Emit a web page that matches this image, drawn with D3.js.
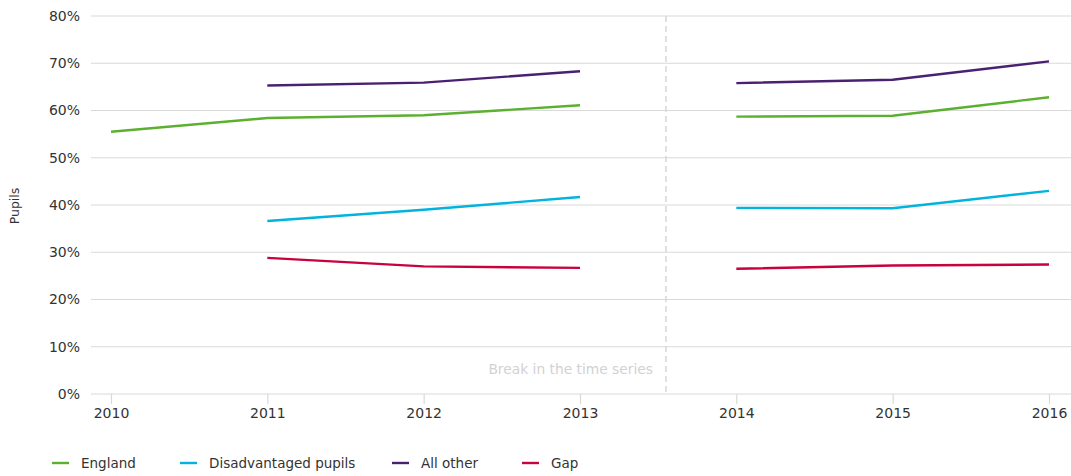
<!DOCTYPE html>
<html><head><meta charset="utf-8">
<script src="https://cdn.jsdelivr.net/npm/d3@7"></script>
<style>body{margin:0;background:#fff;font-family:"DejaVu Sans",sans-serif;}</style>
</head><body><svg id="c" width="1071" height="476"></svg>
<script>
const years = [2010, 2011, 2012, 2013, 2014, 2015, 2016];
const england = [55.5, 58.4, 59.0, 61.1, 58.7, 58.9, 62.8];
const disadvantaged = [null, 36.6, 39.0, 41.7, 39.4, 39.3, 43.0];
const allOther = [null, 65.3, 65.9, 68.3, 65.8, 66.5, 70.4];
const gap = [null, 28.8, 27.0, 26.7, 26.5, 27.2, 27.4];
const yTicks = [0, 10, 20, 30, 40, 50, 60, 70, 80];
const breakYear = 2013.55;
const breakLabel = "Break in the time series";
const seriesNames = ["England", "Disadvantaged pupils", "All other", "Gap"];
const seriesColors = ["#5bb030", "#00b4de", "#4a2170", "#c8023f"];
const seriesData = [england, disadvantaged, allOther, gap];

(function(){
const FONT = "'DejaVu Sans', sans-serif";
const svg = d3.select("#c").attr("font-family", FONT);
const pLeft = 91, pRight = 1071, pTop = 16, pBottom = 394;
const x = d3.scaleLinear().domain([2010, 2016]).range([111, 1049]);
const y = d3.scaleLinear().domain([0, 80]).range([pBottom, pTop]);

svg.append("g").selectAll("line").data(yTicks).join("line")
  .attr("x1", pLeft).attr("x2", pRight)
  .attr("y1", d => y(d)).attr("y2", d => y(d))
  .attr("stroke", "#d9d9d9").attr("stroke-width", 1.2);

svg.append("g").selectAll("text").data(yTicks).join("text")
  .attr("x", 80).attr("y", d => y(d)).attr("dy", "0.35em")
  .attr("text-anchor", "end").attr("font-size", 14).attr("fill", "#333")
  .text(d => d + "%");

const xg = svg.append("g").attr("transform", `translate(0,${pBottom})`)
  .call(d3.axisBottom(x).tickValues(years).tickFormat(d3.format("d")).tickSize(10).tickPadding(4));
xg.select(".domain").remove();
xg.selectAll(".tick line").attr("stroke", "#d9d9d9").attr("stroke-width", 1.2);
xg.selectAll(".tick text").attr("font-size", 14).attr("fill", "#333").attr("font-family", FONT);

svg.append("text").attr("transform", "translate(19,206) rotate(-90)")
  .attr("text-anchor", "middle").attr("font-size", 12.5).attr("fill", "#333").text("Pupils");

svg.append("line").attr("x1", x(breakYear)).attr("x2", x(breakYear))
  .attr("y1", pTop).attr("y2", pBottom)
  .attr("stroke", "#d6d6d6").attr("stroke-width", 1.5).attr("stroke-dasharray", "6,4");
svg.append("text").attr("x", x(breakYear) - 13).attr("y", 374)
  .attr("text-anchor", "end").attr("font-size", 13.8).attr("fill", "#d2d2d2").text(breakLabel);

const line = d3.line().defined(d => d.v != null && !d.brk).x(d => x(d.yr)).y(d => y(d.v));
seriesData.forEach((arr, i) => {
  const pts = [];
  years.forEach((yr, j) => {
    pts.push({yr, v: arr[j]});
    if (yr === 2013) pts.push({yr: breakYear, v: null, brk: true});
  });
  svg.append("path").datum(pts).attr("d", line)
    .attr("fill", "none").attr("stroke", seriesColors[i]).attr("stroke-width", 2.4);
});

const legX = [52, 180, 392, 522];
seriesNames.forEach((n, i) => {
  svg.append("line").attr("x1", legX[i]).attr("x2", legX[i] + 17)
    .attr("y1", 463).attr("y2", 463).attr("stroke", seriesColors[i]).attr("stroke-width", 2.4);
  svg.append("text").attr("x", legX[i] + 29).attr("y", 463).attr("dy", "0.35em")
    .attr("font-size", 13.5).attr("fill", "#333").text(n);
});
})();
</script></body></html>
